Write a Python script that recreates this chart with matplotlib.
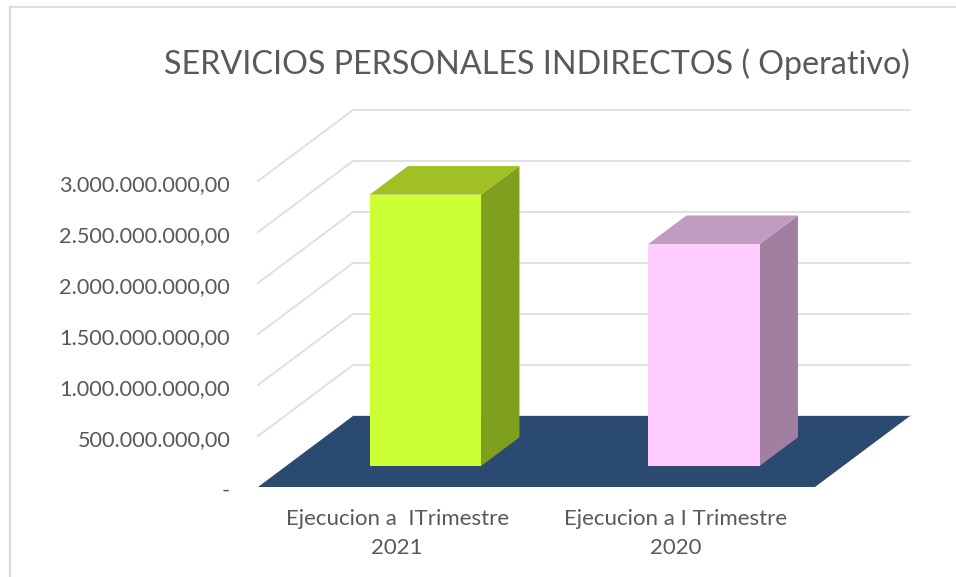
import matplotlib
matplotlib.use("Agg")
import matplotlib.pyplot as plt
from matplotlib.patches import Polygon
from matplotlib.ticker import FuncFormatter
from matplotlib.transforms import ScaledTranslation

title = "SERVICIOS PERSONALES INDIRECTOS ( Operativo)"
categories = ["Ejecucion a  ITrimestre\n2021", "Ejecucion a I Trimestre\n2020"]
values = [2660000000, 2175000000]
ticks = [0, 500000000, 1000000000, 1500000000, 2000000000, 2500000000, 3000000000]
front_colors = ["#CCFF33", "#FFCCFF"]
top_colors = ["#A0C026", "#C09CC0"]
side_colors = ["#7FA01E", "#A27FA0"]

W, H = 956, 577
fig = plt.figure(figsize=(W / 100, H / 100), dpi=100, facecolor="white")
plt.rcParams["font.family"] = ["Lato", "DejaVu Sans"]
L, R, B, T = 258, 815, 487, 181
ax = fig.add_axes([L / W, 1 - B / H, (R - L) / W, (B - T) / H])
ax.set_xlim(-0.5, 1.5)
ax.set_ylim(0, 3e9)
ax.patch.set_visible(False)
for s in ax.spines.values():
    s.set_visible(False)

# oblique depth vector in data units
DX = 95 / (R - L) * 2
DY = 71 / (B - T) * 3e9


def pt(x, y, d):
    return (x + DX * d, y + DY * d)


def poly(pts, color, z, **kw):
    ax.add_patch(Polygon(pts, closed=True, facecolor=color, edgecolor="none",
                         clip_on=False, zorder=z, **kw))


# wall gridlines
for t in ticks[1:]:
    ax.plot(*zip(pt(-0.5, t, 0), pt(-0.5, t, 1), pt(1.5, t, 1)), color="#DEDEDE",
            lw=1.3, clip_on=False, zorder=1, solid_joinstyle="miter")
ax.plot(*zip(pt(-0.5, 0, 1), pt(1.5, 0, 1)), color="#DEDEDE", lw=1.3, clip_on=False, zorder=1)
# floor
poly([pt(-0.5, 0, 0), pt(1.5, 0, 0), pt(1.5, 0, 1), pt(-0.5, 0, 1)], "#2A4A72", 2)

# bars
bw = 0.2
d0, d1 = 0.296, 0.70
for i, v in enumerate(values):
    x0, x1 = i - bw, i + bw
    poly([pt(x1, 0, d0), pt(x1, 0, d1), pt(x1, v, d1), pt(x1, v, d0)], side_colors[i], 3)
    poly([pt(x0, v, d0), pt(x1, v, d0), pt(x1, v, d1), pt(x0, v, d1)], top_colors[i], 3)
    poly([pt(x0, 0, d0), pt(x1, 0, d0), pt(x1, v, d0), pt(x0, v, d0)], front_colors[i], 4)

ax.set_xticks([0, 1])
ax.set_xticklabels(categories, fontsize=16, color="#595959", linespacing=1.55)
ax.set_yticks(ticks)
ax.yaxis.set_major_formatter(FuncFormatter(
    lambda v, p: "-" if v == 0 else f"{v:,.2f}".replace(",", "X").replace(".", ",").replace("X", ".")))
ax.tick_params(axis="both", length=0, labelcolor="#595959")
ax.tick_params(axis="y", labelsize=15.6, pad=20)
ax.tick_params(axis="x", pad=16)
shift = ScaledTranslation(0, -1.5 / 72, fig.dpi_scale_trans)
for lab in ax.get_yticklabels():
    lab.set_ha("right")
    lab.set_transform(lab.get_transform() + shift)

fig.text(537 / W, 1 - 64 / H, title, fontsize=23.2, color="#595959", ha="center", va="center")

# frame of the embedded chart
fig.add_artist(plt.Line2D([10 / W, 10 / W], [0, 1 - 7 / H], color="#D9D9D9", lw=1.6))
fig.add_artist(plt.Line2D([10 / W, 956 / W], [1 - 7 / H, 1 - 7 / H], color="#D9D9D9", lw=1.2))

fig.savefig("out.png", dpi=100, facecolor="white")
